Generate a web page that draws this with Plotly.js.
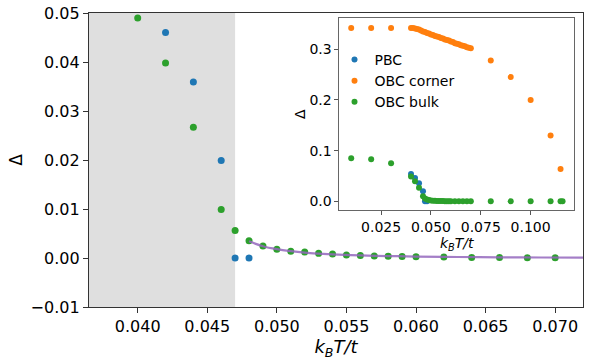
<!DOCTYPE html>
<html>
<head>
<meta charset="utf-8">
<script src="https://cdn.plot.ly/plotly-3.0.1.min.js"></script>
<style>
  body { margin: 0; background: #fff; }
  #chart { width: 598px; height: 363px; }
</style>
</head>
<body>
<div id="chart"></div>
<script>
// PBC gap
const pbcT = [0.040, 0.042, 0.044, 0.046, 0.047, 0.048];
const pbcGap = [0.054, 0.046, 0.0359, 0.0199, 0.0, 0.0];

// OBC corner gap
const cornerT = [0.010, 0.020, 0.030,
  0.040, 0.041, 0.042, 0.043, 0.044, 0.045, 0.046, 0.047, 0.048, 0.049,
  0.050, 0.051, 0.052, 0.053, 0.054, 0.055, 0.056, 0.057, 0.058, 0.059,
  0.060, 0.061, 0.062, 0.063, 0.064, 0.065, 0.066, 0.067, 0.068, 0.069, 0.070,
  0.080, 0.090, 0.100, 0.110, 0.115];
const cornerGap = [0.342, 0.342, 0.342,
  0.342, 0.342, 0.341, 0.340, 0.339, 0.337, 0.335, 0.334, 0.332, 0.331,
  0.329, 0.328, 0.326, 0.325, 0.324, 0.322, 0.321, 0.319, 0.318, 0.317,
  0.315, 0.314, 0.312, 0.311, 0.310, 0.308, 0.307, 0.306, 0.304, 0.303, 0.302,
  0.278, 0.245, 0.200, 0.130, 0.064];

// OBC bulk gap
const bulkT = [0.010, 0.020, 0.030, 0.040, 0.042, 0.044, 0.046, 0.047,
  0.048, 0.049, 0.050, 0.051, 0.052, 0.053, 0.054, 0.055, 0.056, 0.057,
  0.058, 0.059, 0.060, 0.062, 0.064, 0.066, 0.068, 0.070,
  0.080, 0.090, 0.100, 0.110, 0.115, 0.116];
const bulkGap = [0.085, 0.083, 0.075, 0.049, 0.0398, 0.0267, 0.0099, 0.0056,
  0.0035, 0.00245, 0.0018, 0.0014, 0.0012, 0.00095, 0.0008, 0.0006, 0.0005, 0.00042,
  0.00035, 0.0003, 0.00025, 0.00018, 0.00012, 0.0001, 0.00007, 0.00005,
  0.0, 0.0, 0.0, 0.0, 0.0, 0.0];

// fitted curve
const fitT = [0.048, 0.049, 0.050, 0.051, 0.052, 0.053, 0.054, 0.056, 0.058,
  0.060, 0.063, 0.066, 0.069, 0.072];
const fitGap = [0.0034, 0.0024, 0.0018, 0.0014, 0.0011, 0.0009, 0.00075, 0.00052,
  0.0004, 0.0003, 0.0002, 0.00014, 0.0001, 0.00007];

const blue = "#1f77b4", orange = "#ff7f0e", green = "#2ca02c";
const font = "DejaVu Sans, sans-serif";
const xlabel = "<i>k</i><sub><i>B</i></sub><i>T/t</i>";

const data = [
  // main axes
  { x: pbcT, y: pbcGap, type: "scatter", mode: "markers", showlegend: false,
    marker: { color: blue, size: 7 }, xaxis: "x", yaxis: "y" },
  { x: bulkT, y: bulkGap, type: "scatter", mode: "markers", showlegend: false,
    marker: { color: green, size: 7 }, xaxis: "x", yaxis: "y" },
  { x: fitT, y: fitGap, type: "scatter", mode: "lines", showlegend: false,
    line: { color: "rgba(148,103,189,0.85)", width: 2.2, shape: "spline" },
    xaxis: "x", yaxis: "y" },
  // inset
  { x: pbcT, y: pbcGap, type: "scatter", mode: "markers", name: "PBC",
    marker: { color: blue, size: 6 }, xaxis: "x2", yaxis: "y2" },
  { x: cornerT, y: cornerGap, type: "scatter", mode: "markers", name: "OBC corner",
    marker: { color: orange, size: 6 }, xaxis: "x2", yaxis: "y2" },
  { x: bulkT, y: bulkGap, type: "scatter", mode: "markers", name: "OBC bulk",
    marker: { color: green, size: 6 }, xaxis: "x2", yaxis: "y2" }
];

const layout = {
  width: 598, height: 363,
  margin: { l: 89, r: 15, t: 13, b: 56 },
  paper_bgcolor: "#fff", plot_bgcolor: "#fff",
  font: { family: font, color: "#000" },
  xaxis: {
    domain: [0, 1], range: [0.0365, 0.072],
    tickvals: [0.040, 0.045, 0.050, 0.055, 0.060, 0.065, 0.070], tickformat: ".3f",
    ticks: "outside", ticklen: 5, tickcolor: "#333",
    showline: true, mirror: true, linecolor: "#333", linewidth: 1.2,
    showgrid: false, zeroline: false, tickfont: { size: 16 },
    title: { text: xlabel, font: { size: 18 }, standoff: 0 }
  },
  yaxis: {
    domain: [0, 1], range: [-0.01, 0.05], dtick: 0.01, tickformat: ".2f",
    ticks: "outside", ticklen: 5, tickcolor: "#333",
    showline: true, mirror: true, linecolor: "#333", linewidth: 1.2,
    showgrid: false, zeroline: false, tickfont: { size: 16 },
    title: { text: "Δ", font: { size: 17 }, standoff: 3 }
  },
  xaxis2: {
    domain: [0.507, 0.982], range: [0.0041, 0.1218], anchor: "y2",
    tickvals: [0.025, 0.050, 0.075, 0.100], tickformat: ".3f",
    ticks: "outside", ticklen: 4, tickcolor: "#555",
    showline: true, mirror: true, linecolor: "#666", linewidth: 1,
    showgrid: false, zeroline: false, tickfont: { size: 14 },
    title: { text: xlabel, font: { size: 14 }, standoff: 0 }
  },
  yaxis2: {
    domain: [0.33, 0.982], range: [-0.017, 0.361], anchor: "x2",
    tickvals: [0, 0.1, 0.2, 0.3], tickformat: ".1f",
    ticks: "outside", ticklen: 4, tickcolor: "#555",
    showline: true, mirror: true, linecolor: "#666", linewidth: 1,
    showgrid: false, zeroline: false, tickfont: { size: 14 },
    title: { text: "Δ", font: { size: 14 }, standoff: 0 }
  },
  shapes: [{
    type: "rect", xref: "x", yref: "paper", x0: 0.0365, x1: 0.047, y0: 0, y1: 1,
    fillcolor: "#dfdfdf", line: { width: 0 }, layer: "below"
  }],
  legend: {
    x: 0.497, y: 0.895, xanchor: "left", yanchor: "top",
    bgcolor: "rgba(0,0,0,0)", font: { size: 14 }, tracegroupgap: 0
  }
};

Plotly.newPlot("chart", data, layout, { displayModeBar: false, staticPlot: true });
</script>
</body>
</html>
